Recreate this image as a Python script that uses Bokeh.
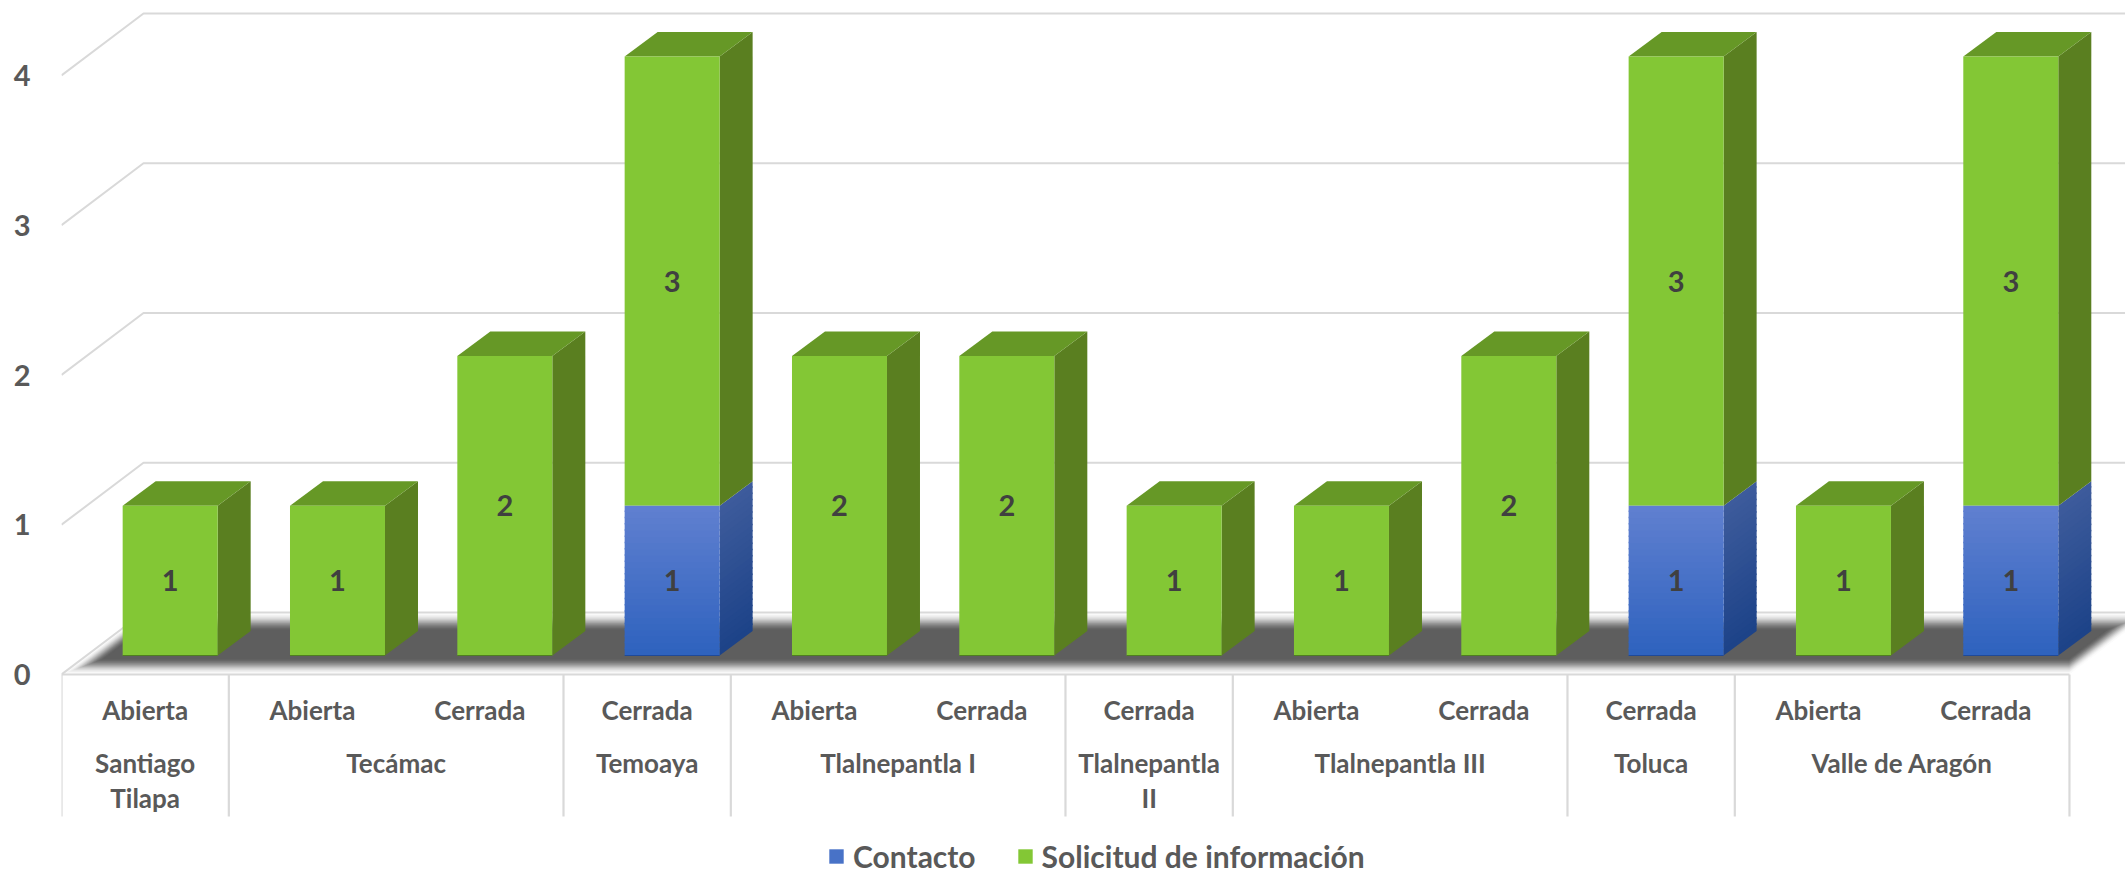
from bokeh.plotting import figure
from bokeh.models import Range1d, FixedTicker, Legend, LegendItem, ColumnDataSource
from bokeh.core.properties import value
from bokeh.embed import file_html
from bokeh.resources import INLINE

# ---- data ----
statuses = ["Abierta", "Abierta", "Cerrada", "Cerrada", "Abierta", "Cerrada",
            "Cerrada", "Abierta", "Cerrada", "Cerrada", "Abierta", "Cerrada"]
groups = ["Santiago\nTilapa", "Tecámac", "Temoaya", "Tlalnepantla I",
          "Tlalnepantla\nII", "Tlalnepantla III", "Toluca", "Valle de Aragón"]
group_sizes = [1, 2, 1, 2, 1, 2, 1, 2]
contacto = [0, 0, 0, 1, 0, 0, 0, 0, 0, 1, 0, 1]
solicitud = [1, 1, 2, 3, 2, 2, 1, 1, 2, 3, 1, 3]
y_ticks = [0, 1, 2, 3, 4]

# ---- layout (pixels of the page) ----
W, H = 2125, 873
LEFT_PX = 61
ZERO_PX = 674
UX, UY = 167.33, 149.75     # pixels per category / per unit
FONT = value("Lato")
GRID = "#D9D9D9"
TXT = "#595959"
LBL = "#404040"

def dx(px): return px / UX
def dy(px): return px / UY
def X(px): return (px - LEFT_PX) / UX
def Y(py): return (ZERO_PX - py) / UY

p = figure(width=W, height=H, output_backend="svg", toolbar_location=None,
           x_range=Range1d(X(LEFT_PX), X(W)), y_range=Range1d(Y(H), Y(0)),
           min_border_left=LEFT_PX, min_border_right=0, min_border_top=0, min_border_bottom=0,
           x_axis_location=None, outline_line_color=None)
p.xgrid.visible = False
p.ygrid.visible = False
p.background_fill_color = "white"
p.border_fill_color = "white"

ax = p.yaxis[0]
ax.ticker = FixedTicker(ticks=y_ticks)
ax.axis_line_color = None
ax.major_tick_line_color = None
ax.minor_tick_line_color = None
ax.major_label_text_font = "Lato"
ax.major_label_text_font_style = "bold"
ax.major_label_text_font_size = "29px"
ax.major_label_text_color = TXT
ax.major_label_standoff = 25

n_cat = len(statuses)
RATIO = 82 / 62  # x shift per y shift along the depth direction

def lerp(a, b, t): return a + (b - a) * t

# ---- blurred floor shadow ----
STEPS = 20
for k in range(STEPS):
    t = k / (STEPS - 1)
    g = int(round(lerp(252, 94, t * t * (3 - 2 * t))))
    df, db = lerp(0, 16, t), lerp(62, 44, t)
    inset = lerp(0, 22, t)
    y_f, y_b = ZERO_PX - df, ZERO_PX - db
    xs = [LEFT_PX + df * RATIO + inset, LEFT_PX + db * RATIO + inset,
          LEFT_PX + UX * n_cat + db * RATIO - inset, LEFT_PX + UX * n_cat + df * RATIO - inset]
    ys = [y_f, y_b, y_b, y_f]
    p.patch([X(v) for v in xs], [Y(v) for v in ys], fill_color=f"#{g:02x}{g:02x}{g:02x}", line_color=None)

# ---- walls: gridlines ----
wall_dx, wall_dy = dx(82), dy(62)
for v in y_ticks:
    p.line([0, wall_dx, X(W)], [v, v + wall_dy, v + wall_dy], line_color=GRID, line_width=2)

# ---- category axis table ----
p.line([0, n_cat], [0, 0], line_color=GRID, line_width=2.2)
edges = [0]
for s in group_sizes:
    edges.append(edges[-1] + s)
p.segment(edges, [0] * len(edges), edges, [Y(816)] * len(edges), line_color=GRID, line_width=2.2)

p.text([i + 0.5 for i in range(n_cat)], [Y(709)] * n_cat, text=statuses, text_font=FONT,
       text_font_style="bold", text_font_size="26px", text_color=TXT,
       text_align="center", text_baseline="middle")
for g, a, b in zip(groups, edges[:-1], edges[1:]):
    for j, line in enumerate(g.split("\n")):
        p.text([(a + b) / 2], [Y(762 + 35 * j)], text=[line], text_font=FONT,
               text_font_style="bold", text_font_size="26px", text_color=TXT,
               text_align="center", text_baseline="middle")

# ---- 3-D bars ----
BAR = 95 / UX
OFF_X, OFF_Y = dx(25), dy(19)
DEP_X, DEP_Y = dx(33), dy(24.5)
GREEN = "#83C735"
GREEN_SIDE = "#5A7F20"
GREEN_TOP = "#669826"
BLUE_T, BLUE_B = (0x60, 0x80, 0xD0), (0x2E, 0x62, 0xBE)
BLUE_ST, BLUE_SB = (0x3E, 0x5C, 0x9C), (0x1C, 0x42, 0x88)

def hexc(a, b, t):
    return "#%02x%02x%02x" % tuple(int(round(lerp(a[i], b[i], t))) for i in range(3))

BANDS = 24
OVER = dy(1.5)
blue_q = dict(left=[], right=[], top=[], bottom=[], color=[])
green_q = dict(left=[], right=[], top=[], bottom=[])
edge_x0, edge_x1, edge_y, edge_c = [], [], [], []
for i in range(n_cat):
    l = i + 0.5 + OFF_X - BAR / 2
    r = l + BAR
    c, s = contacto[i], solicitud[i]
    total = c + s
    y0 = OFF_Y
    edge_x0.append(l); edge_x1.append(r); edge_y.append(y0)
    edge_c.append("#1F4A99" if c else "#4F7F20")
    if c:
        for k in range(BANDS):
            a = y0 + c * k / BANDS
            b = y0 + c * (k + 1) / BANDS
            b2 = b + OVER if k < BANDS - 1 else b
            tt = (k + 0.5) / BANDS
            blue_q["left"].append(l); blue_q["right"].append(r)
            blue_q["bottom"].append(a); blue_q["top"].append(b2)
            blue_q["color"].append(hexc(BLUE_B, BLUE_T, tt))
            p.patch([r, r + DEP_X, r + DEP_X, r],
                    [a, a + DEP_Y, b2 + DEP_Y, b2],
                    fill_color=hexc(BLUE_SB, BLUE_ST, tt), line_color=None)
    if s:
        a = y0 + c
        b = y0 + total
        green_q["left"].append(l); green_q["right"].append(r)
        green_q["bottom"].append(a); green_q["top"].append(b)
        p.patch([r, r + DEP_X, r + DEP_X, r], [a, a + DEP_Y, b + DEP_Y, b],
                fill_color=GREEN_SIDE, line_color=None)
    top = y0 + total
    p.patch([l, l + DEP_X, r + DEP_X, r], [top, top + DEP_Y, top + DEP_Y, top],
            fill_color=GREEN_TOP, line_color=None)

r_green = p.quad(source=ColumnDataSource(green_q), left="left", right="right", top="top", bottom="bottom",
                 fill_color=GREEN, line_color=None)
r_blue = p.quad(source=ColumnDataSource(blue_q), left="left", right="right", top="top", bottom="bottom",
                fill_color="color", line_color=None)
p.segment(edge_x0, edge_y, edge_x1, edge_y, line_color=edge_c, line_width=1)

# ---- data labels ----
lx, ly, lt = [], [], []
for i in range(n_cat):
    cx = i + 0.5 + OFF_X
    if contacto[i]:
        lx.append(cx); ly.append(OFF_Y + contacto[i] / 2); lt.append(str(contacto[i]))
    if solicitud[i]:
        lx.append(cx); ly.append(OFF_Y + contacto[i] + solicitud[i] / 2); lt.append(str(solicitud[i]))
p.text(lx, ly, text=lt, text_font=FONT, text_font_style="bold", text_font_size="29px",
       text_color=LBL, text_align="center", text_baseline="middle")

# ---- legend ----
leg = Legend(items=[LegendItem(label="Contacto", renderers=[r_blue], index=12),
                    LegendItem(label="Solicitud de información", renderers=[r_green], index=0)],
             orientation="horizontal", location=(827 - LEFT_PX, -1),
             glyph_width=18, glyph_height=18, label_standoff=8, spacing=40,
             padding=0, margin=0, border_line_color=None, background_fill_alpha=0,
             label_text_font="Lato", label_text_font_style="bold", label_text_font_size="30px",
             label_text_color=TXT, label_height=20)
p.add_layout(leg)

open("out.html", "w").write(file_html(p, INLINE))
